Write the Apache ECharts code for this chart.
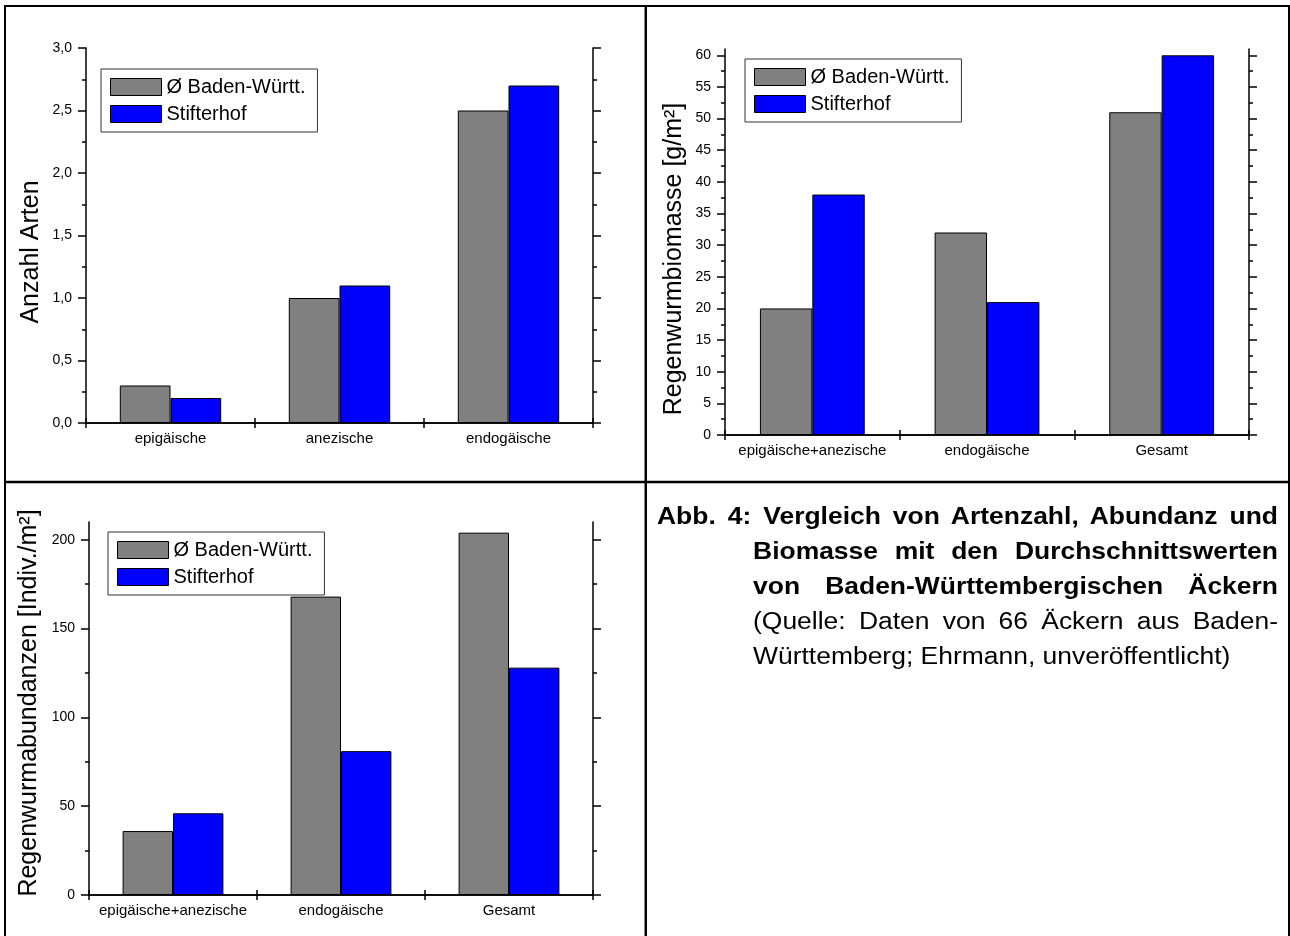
<!DOCTYPE html>
<html>
<head>
<meta charset="utf-8">
<script src="https://cdn.jsdelivr.net/npm/echarts@6/dist/echarts.min.js"></script>
<style>
  html, body { margin: 0; padding: 0; background: #fff; }
  #wrap { position: relative; width: 1290px; height: 936px; overflow: hidden; }
  #chart { position: absolute; left: 0; top: 0; width: 1290px; height: 936px; }
  /* caption set in a slightly wide face: 23px glyphs stretched horizontally */
  #caption { position: absolute; left: 657px; top: 499px; width: 540px;
    transform: scaleX(1.15); transform-origin: 0 0;
    font-family: "Liberation Sans", Arial, sans-serif; font-size: 23px; line-height: 35px; color: #000; }
  #caption .ln { white-space: nowrap; text-align: justify; text-align-last: justify; }
  #caption .ind { margin-left: 83.5px; }
  #caption .b { font-weight: bold; }
  #caption .last { text-align: left; text-align-last: left; }
</style>
</head>
<body>
<div id="wrap">
  <div id="chart"></div>
  <div id="caption">
    <div class="ln b">Abb. 4: Vergleich von Artenzahl, Abundanz und</div>
    <div class="ln b ind">Biomasse mit den Durchschnittswerten</div>
    <div class="ln b ind">von Baden-Württembergischen Äckern</div>
    <div class="ln ind">(Quelle: Daten von 66 Äckern aus Baden-</div>
    <div class="ln ind last">Württemberg; Ehrmann, unveröffentlicht)</div>
  </div>
</div>
<script>
// Series names
const nameBW = 'Ø Baden-Württ.';
const nameStift = 'Stifterhof';

// Panel 1: number of species per ecological group
const speciesCats = ['epigäische', 'anezische', 'endogäische'];
const speciesBW = [0.3, 1.0, 2.5];
const speciesStift = [0.2, 1.1, 2.7];
const speciesTicks = [0, 0.5, 1.0, 1.5, 2.0, 2.5, 3.0];
const speciesMinor = [0.25, 0.75, 1.25, 1.75, 2.25, 2.75];
const speciesMax = 3.0;

// Panel 2: earthworm biomass
const biomassCats = ['epigäische+anezische', 'endogäische', 'Gesamt'];
const biomassBW = [20, 32, 51];
const biomassStift = [38, 21, 60];
const biomassTicks = [0, 5, 10, 15, 20, 25, 30, 35, 40, 45, 50, 55, 60];
const biomassMinor = [2.5, 7.5, 12.5, 17.5, 22.5, 27.5, 32.5, 37.5, 42.5, 47.5, 52.5, 57.5];
const biomassMax = 61;

// Panel 3: earthworm abundance
const abundCats = ['epigäische+anezische', 'endogäische', 'Gesamt'];
const abundBW = [36, 168, 204];
const abundStift = [46, 81, 128];
const abundTicks = [0, 50, 100, 150, 200];
const abundMinor = [25, 75, 125, 175];
const abundMax = 210;

const FONT = '"Liberation Sans", Arial, sans-serif';
const BLACK = '#000';

const panels = [
  { cats: speciesCats, bw: speciesBW, st: speciesStift, ticks: speciesTicks, minor: speciesMinor, max: speciesMax,
    fmt: v => v.toFixed(1).replace('.', ','),
    grid: { left: 86, top: 48, width: 507, height: 375 },
    legend: { left: 101, top: 69 },
    title: { text: 'Anzahl Arten', x: 31, y: 252 } },
  { cats: biomassCats, bw: biomassBW, st: biomassStift, ticks: biomassTicks, minor: biomassMinor, max: biomassMax,
    fmt: v => String(v),
    grid: { left: 725, top: 49, width: 524, height: 386 },
    legend: { left: 745, top: 59 },
    title: { text: 'Regenwurmbiomasse [g/m²]', x: 674, y: 259 } },
  { cats: abundCats, bw: abundBW, st: abundStift, ticks: abundTicks, minor: abundMinor, max: abundMax,
    fmt: v => String(v),
    grid: { left: 89, top: 522, width: 504, height: 373 },
    legend: { left: 108, top: 532 },
    title: { text: 'Regenwurmabundanzen [Indiv./m²]', x: 29, y: 703 } }
];

const lineStyle = { color: BLACK, width: 1.5 };
const grids = [], xAxes = [], yAxes = [], series = [], legends = [], graphics = [];

panels.forEach((p, i) => {
  grids.push(Object.assign({ containLabel: false }, p.grid));

  // bottom axis with labels, outward ticks at category boundaries
  xAxes.push({ gridIndex: i, type: 'category', data: p.cats, position: 'bottom',
    axisLine: { show: true, lineStyle }, axisTick: { show: true, length: 5, lineStyle },
    axisLabel: { color: BLACK, fontSize: 15, fontFamily: FONT, margin: 8, interval: 0 },
    splitLine: { show: false } });
  // inward half of the boundary ticks
  xAxes.push({ gridIndex: i, type: 'category', data: p.cats, position: 'bottom',
    axisLine: { show: false }, axisTick: { show: true, inside: true, length: 5, lineStyle },
    axisLabel: { show: false }, splitLine: { show: false } });
  // top frame
  xAxes.push({ gridIndex: i, type: 'category', data: p.cats, position: 'top',
    axisLine: { show: true, lineStyle }, axisTick: { show: true, inside: true, length: 4, lineStyle },
    axisLabel: { show: false }, splitLine: { show: false } });

  const yBase = { gridIndex: i, type: 'value', min: 0, max: p.max, splitLine: { show: false } };
  // left axis: major ticks + labels
  yAxes.push(Object.assign({}, yBase, { position: 'left',
    axisLine: { show: true, lineStyle },
    axisTick: { show: true, length: 8, customValues: p.ticks, lineStyle },
    axisLabel: { show: true, customValues: p.ticks, formatter: p.fmt, color: BLACK, fontSize: 14, fontFamily: FONT, margin: 14 } }));
  // left axis: minor ticks
  yAxes.push(Object.assign({}, yBase, { position: 'left',
    axisLine: { show: false },
    axisTick: { show: true, length: 4, customValues: p.minor, lineStyle },
    axisLabel: { show: false } }));
  // right frame: major ticks
  yAxes.push(Object.assign({}, yBase, { position: 'right',
    axisLine: { show: true, lineStyle },
    axisTick: { show: true, length: 8, customValues: p.ticks, lineStyle },
    axisLabel: { show: false } }));
  // right frame: minor ticks
  yAxes.push(Object.assign({}, yBase, { position: 'right',
    axisLine: { show: false },
    axisTick: { show: true, length: 4, customValues: p.minor, lineStyle },
    axisLabel: { show: false } }));

  const barCommon = { type: 'bar', xAxisIndex: 3 * i, yAxisIndex: 4 * i, barGap: '0%', barCategoryGap: '40%' };
  series.push(Object.assign({}, barCommon, { name: nameBW, data: p.bw,
    itemStyle: { color: '#808080', borderColor: BLACK, borderWidth: 1 } }));
  series.push(Object.assign({}, barCommon, { name: nameStift, data: p.st,
    itemStyle: { color: '#0000ff', borderColor: BLACK, borderWidth: 1 } }));

  legends.push({ left: p.legend.left, top: p.legend.top, orient: 'vertical',
    data: [nameBW, nameStift], icon: 'rect', itemWidth: 51, itemHeight: 17, itemGap: 7,
    padding: [8, 12, 8, 9], backgroundColor: '#fff', borderColor: '#333', borderWidth: 1, borderRadius: 0,
    selectedMode: false,
    itemStyle: { borderColor: BLACK, borderWidth: 1 },
    textStyle: { color: BLACK, fontSize: 20, fontFamily: FONT, lineHeight: 17 } });

  // y axis titles
  graphics.push({ type: 'text', x: p.title.x, y: p.title.y, rotation: Math.PI / 2,
    style: { text: p.title.text, font: '25px ' + FONT, fill: BLACK, align: 'center', verticalAlign: 'middle' } });
});

// table frame around the three panels and the caption cell
const frame = [
  { x: 4, y: 5, width: 1286, height: 2 },
  { x: 4, y: 5, width: 2, height: 931 },
  { x: 1288, y: 5, width: 2, height: 931 },
  { x: 644.5, y: 5, width: 2.5, height: 931 },
  { x: 4, y: 480.8, width: 1286, height: 2.5 }
];
frame.forEach(r => graphics.push({ type: 'rect', shape: r, style: { fill: BLACK }, z: 100 }));

const chart = echarts.init(document.getElementById('chart'), null, { renderer: 'canvas' });
chart.setOption({
  animation: false,
  backgroundColor: '#fff',
  textStyle: { fontFamily: FONT },
  grid: grids,
  xAxis: xAxes,
  yAxis: yAxes,
  legend: legends,
  series: series,
  graphic: graphics
});
</script>
</body>
</html>
